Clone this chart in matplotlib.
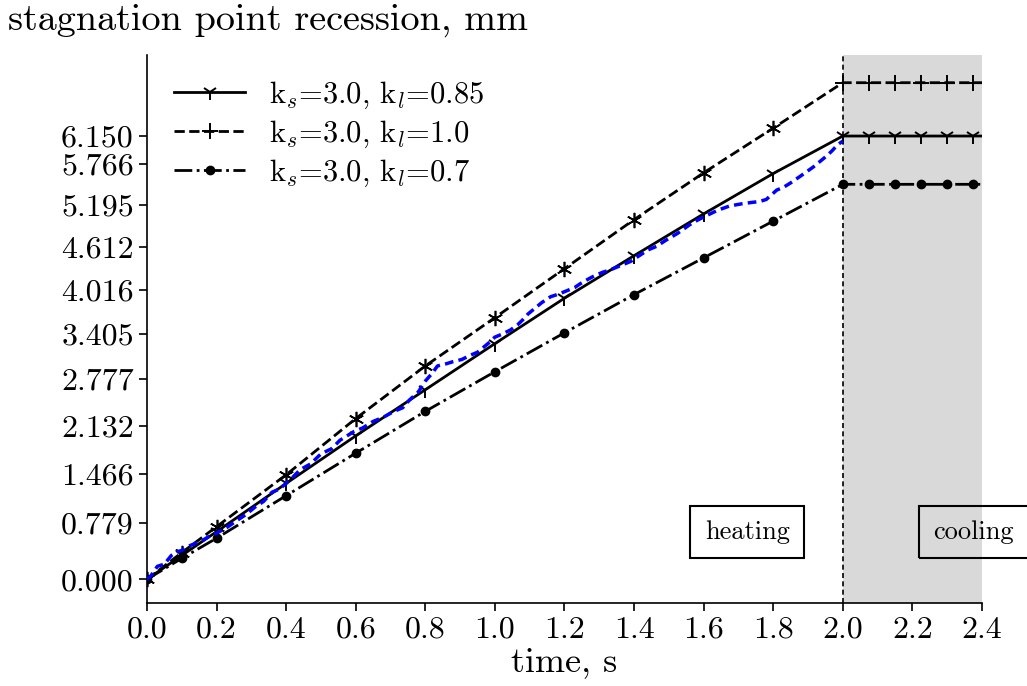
import numpy as np
import matplotlib
matplotlib.use('Agg')
import matplotlib.pyplot as plt
from matplotlib.lines import Line2D

plt.rcParams['font.family'] = ['cmr10', 'DejaVu Serif']
plt.rcParams['mathtext.fontset'] = 'cm'
plt.rcParams['axes.formatter.use_mathtext'] = True

# heating phase: model curves (time in s, recession in mm)
t_heat = [0.0, 0.1, 0.2, 0.4, 0.6, 0.8, 1.0, 1.2, 1.4, 1.6, 1.8, 2.0]
rec_085 = [0.0, 0.33, 0.66, 1.33, 1.99, 2.63, 3.27, 3.90, 4.49, 5.07, 5.63, 6.15]
rec_10 = [0.0, 0.37, 0.73, 1.45, 2.23, 2.96, 3.63, 4.31, 4.99, 5.64, 6.26, 6.89]
rec_07 = [0.0, 0.29, 0.57, 1.16, 1.75, 2.33, 2.88, 3.42, 3.95, 4.46, 4.97, 5.48]
# cooling phase: recession stays constant
t_cool = [2.075, 2.15, 2.225, 2.3, 2.375, 2.4]

# measured recession (blue dashed)
t_exp = [0.0, 0.01, 0.03, 0.05, 0.07, 0.085, 0.10, 0.12, 0.14, 0.16, 0.18, 0.2,
         0.23, 0.26, 0.285, 0.31, 0.335, 0.36, 0.38, 0.40, 0.42, 0.44, 0.47,
         0.50, 0.53, 0.555, 0.575, 0.595, 0.62, 0.65, 0.68, 0.71, 0.735, 0.755,
         0.78, 0.80, 0.82, 0.835, 0.86, 0.88, 0.905, 0.93, 0.95, 0.97, 0.985,
         1.0, 1.02, 1.045, 1.065, 1.08, 1.095, 1.11, 1.135, 1.16, 1.185, 1.21,
         1.23, 1.245, 1.27, 1.29, 1.31, 1.33, 1.36, 1.39, 1.415, 1.44, 1.465,
         1.49, 1.525, 1.56, 1.585, 1.61, 1.64, 1.675, 1.71, 1.74, 1.76, 1.78,
         1.81, 1.83, 1.85, 1.88, 1.915, 1.935, 1.955, 1.97, 1.985, 2.0]
rec_exp = [0.0, 0.04, 0.18, 0.21, 0.33, 0.38, 0.40, 0.46, 0.50, 0.54, 0.60, 0.64,
           0.72, 0.82, 0.90, 1.0, 1.08, 1.21, 1.25, 1.33, 1.42, 1.52, 1.60,
           1.74, 1.81, 1.93, 1.99, 2.05, 2.10, 2.19, 2.25, 2.33, 2.38, 2.49,
           2.60, 2.75, 2.86, 2.96, 2.99, 3.02, 3.05, 3.11, 3.15, 3.23, 3.29,
           3.36, 3.40, 3.46, 3.53, 3.60, 3.68, 3.74, 3.84, 3.92, 3.96, 4.01,
           4.05, 4.10, 4.17, 4.22, 4.26, 4.29, 4.35, 4.41, 4.49, 4.57, 4.62,
           4.70, 4.80, 4.92, 4.99, 5.05, 5.12, 5.18, 5.21, 5.23, 5.24, 5.27,
           5.40, 5.44, 5.50, 5.60, 5.72, 5.80, 5.88, 5.95, 6.03, 6.08]

yticks = [0.000, 0.779, 1.466, 2.132, 2.777, 3.405, 4.016, 4.612, 5.195, 5.766, 6.150]
xticks = np.arange(0, 2.41, 0.2)


def full(rec):
    t = np.array(t_heat + t_cool)
    y = np.array(rec + [rec[-1]] * len(t_cool))
    return t, y


fig = plt.figure(figsize=(10.27, 6.86), dpi=100)
ax = fig.add_axes([0.1431, 0.121, 0.8131, 0.7988])

ax.axvspan(2.0, 2.4, color='#d9d9d9', zorder=0, lw=0)
ax.axvline(2.0, color='black', ls=(0, (3, 2)), lw=1.2, zorder=1)

n = len(t_heat) + len(t_cool)
mk = list(range(n - 1))
cool_idx = list(range(len(t_heat) - 1, n - 1))

t, y = full(rec_085)
ax.plot(t, y, color='black', ls='-', lw=2, marker='1', ms=11, mew=1.4, markevery=mk)
t, y = full(rec_10)
ax.plot(t, y, color='black', ls='--', lw=2, marker='+', ms=12, mew=1.4, markevery=cool_idx)
ax.plot(t_heat[:-1], rec_10[:-1], ls='none', marker=(6, 2, 0), ms=11, mew=1.2, color='black')
t, y = full(rec_07)
ax.plot(t, y, color='black', ls='-.', lw=2, marker='o', ms=6, markevery=mk)

ax.plot(t_exp, rec_exp, color='blue', ls=(0, (2.5, 1.5)), lw=2.5, zorder=3)

ax.set_xlim(0, 2.4)
ax.set_ylim(-0.329, 7.274)
ax.set_xticks(xticks)
ax.set_xticklabels(['%.1f' % v for v in xticks])
ax.set_yticks(yticks)
ax.set_yticklabels(['%.3f' % v for v in yticks])
ax.tick_params(labelsize=23, width=1.2, length=6)
for s in ['top', 'right']:
    ax.spines[s].set_visible(False)
for s in ['left', 'bottom']:
    ax.spines[s].set_linewidth(1.2)

ax.set_xlabel('time, s', fontsize=26, labelpad=2)
fig.text(0.008, 0.994, 'stagnation point recession, mm', fontsize=27.5, va='top', ha='left')

handles = [
    Line2D([], [], color='black', ls='-', lw=2, marker='1', ms=11, mew=1.4),
    Line2D([], [], color='black', ls='--', lw=2, marker='+', ms=12, mew=1.4),
    Line2D([], [], color='black', ls='-.', lw=2, marker='o', ms=6),
]
labels = [r'k$_s$=3.0, k$_l$=0.85', r'k$_s$=3.0, k$_l$=1.0', r'k$_s$=3.0, k$_l$=0.7']
ax.legend(handles, labels, loc='upper left', bbox_to_anchor=(0.0, 1.005), frameon=False,
          fontsize=22, handlelength=2.3, handletextpad=0.8, labelspacing=0.25)

box = dict(boxstyle='square,pad=0.55', facecolor='none', edgecolor='black', lw=1.5)
ax.text(1.725, 0.656, 'heating', fontsize=19, ha='center', va='center', bbox=box)
ax.text(2.375, 0.656, 'cooling', fontsize=19, ha='center', va='center', bbox=box, clip_on=False)

fig.savefig('out.png', dpi=100)
